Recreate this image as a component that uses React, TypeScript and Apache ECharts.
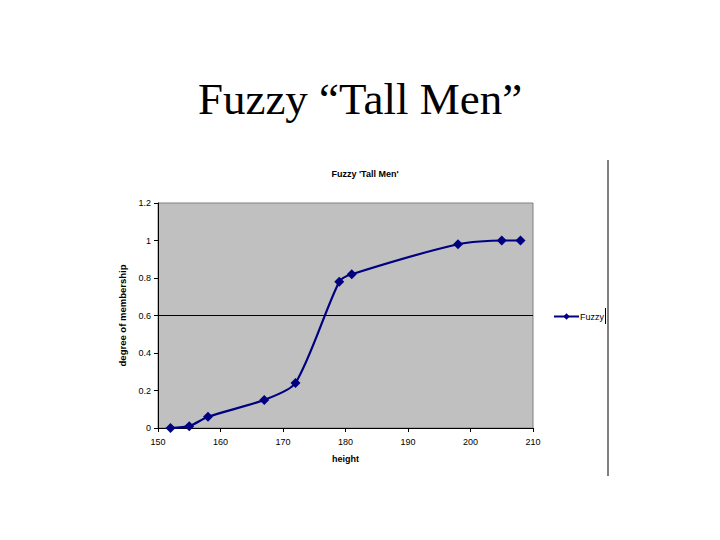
import React, { useEffect, useRef } from "react";
import * as echarts from "echarts";

const heights = [152, 155, 158, 167, 172, 179, 181, 198, 205, 208];
const membership = [0, 0.01, 0.06, 0.15, 0.24, 0.78, 0.82, 0.98, 1, 1];
const thresholdValue = [0.6];
const seriesName = "Fuzzy";
const slideTitle = "Fuzzy \u201cTall Men\u201d";
const chartTitle = "Fuzzy 'Tall Men'";
const xName = "height";
const yName = "degree of membership";

export default function App() {
  const ref = useRef<HTMLDivElement>(null);
  useEffect(() => {
    if (!ref.current) return;
    const chart = echarts.init(ref.current, undefined, { renderer: "svg" });
    const data = heights.map((h, i) => [h, membership[i]]);
    chart.setOption({
      animation: false,
      backgroundColor: "#ffffff",
      title: [
        {
          text: slideTitle,
          left: "center",
          top: 71,
          textStyle: {
            fontFamily: "Liberation Serif",
            fontSize: 45,
            fontWeight: "normal",
            color: "#000",
          },
        },
        {
          text: chartTitle,
          left: 360,
          textAlign: "center",
          top: 164,
          textStyle: {
            fontFamily: "Liberation Sans",
            fontSize: 9,
            fontWeight: "bold",
            color: "#000",
          },
        },
      ],
      legend: {
        left: 548,
        top: 307,
        itemWidth: 25,
        itemHeight: 8,
        itemGap: 2,
        data: [seriesName],
        textStyle: { fontFamily: "Liberation Sans", fontSize: 9, color: "#000", padding: [0, 0, 0, -4] },
      },
      grid: {
        left: 158,
        right: 187,
        top: 203,
        bottom: 112,
        show: true,
        backgroundColor: "#c0c0c0",
        borderColor: "#808080",
        borderWidth: 1,
      },
      xAxis: {
        type: "value",
        min: 150,
        max: 210,
        interval: 10,
        name: xName,
        nameLocation: "middle",
        nameGap: 26,
        nameTextStyle: { fontFamily: "Liberation Sans", fontSize: 9, fontWeight: "bold", color: "#000" },
        axisLine: { show: true, lineStyle: { color: "#000", width: 1 } },
        axisTick: { show: true, length: 4, lineStyle: { color: "#000" } },
        axisLabel: { fontFamily: "Liberation Sans", fontSize: 9, color: "#000", margin: 9 },
        splitLine: { show: false },
      },
      yAxis: {
        type: "value",
        min: 0,
        max: 1.2,
        interval: 0.2,
        name: yName,
        nameLocation: "middle",
        nameGap: 27,
        nameTextStyle: { fontFamily: "Liberation Sans", fontSize: 9.5, fontWeight: "bold", color: "#000" },
        axisLine: { show: true, lineStyle: { color: "#000", width: 1 } },
        axisTick: { show: true, length: 4, lineStyle: { color: "#000" } },
        axisLabel: { fontFamily: "Liberation Sans", fontSize: 9, color: "#000", margin: 7 },
        splitLine: { show: false },
      },
      series: [
        {
          name: seriesName,
          type: "line",
          data,
          smooth: 0.25,
          symbol: "diamond",
          symbolSize: 10,
          itemStyle: { color: "#000080" },
          lineStyle: { color: "#000080", width: 2.2 },
          markLine: {
            silent: true,
            symbol: "none",
            label: { show: false },
            lineStyle: { color: "#000", width: 1, type: "solid" },
            data: thresholdValue.map((v) => ({ yAxis: v })),
          },
        },
      ],
      graphic: [
        {
          type: "line",
          shape: { x1: 608, y1: 160, x2: 608, y2: 476 },
          style: { stroke: "#000", lineWidth: 1 },
        },
        {
          type: "line",
          shape: { x1: 605.5, y1: 308, x2: 605.5, y2: 324 },
          style: { stroke: "#000", lineWidth: 1 },
        },
      ],
    });
    return () => chart.dispose();
  }, []);
  return (
    <div
      ref={ref}
      style={{ position: "absolute", left: 0, top: 0, width: 720, height: 540 }}
    />
  );
}
